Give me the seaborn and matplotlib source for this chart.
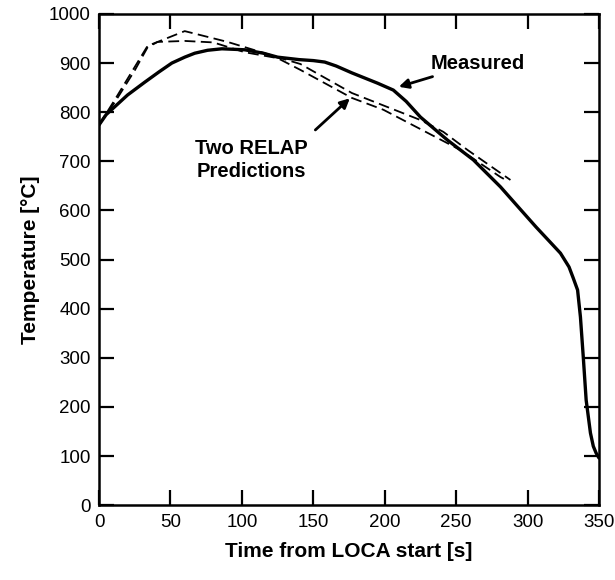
import pandas as pd
import matplotlib.pyplot as plt
import seaborn as sns

# measured thermocouple trace
meas_t = [0, 5, 11, 20, 32, 42, 51, 60, 67, 76, 86, 102, 115, 125, 140, 150, 158, 166, 177, 195, 206,
          215, 225, 244, 262, 281, 295, 306, 315, 323, 329, 332, 335, 337, 339, 341, 344, 346, 348, 350]
meas_T = [774, 795, 811, 835, 861, 882, 900, 912, 920, 926, 929, 927, 920, 912, 907, 905, 902, 894, 880, 859, 845,
          822, 790, 743, 703, 648, 602, 566, 538, 513, 485, 462, 438, 383, 301, 214, 147, 120, 106, 96]

# RELAP prediction 1
relap1_t = [0, 11, 25, 34, 41, 60, 90, 125, 141, 177, 225, 241, 258, 288]
relap1_T = [774, 825, 892, 935, 943, 965, 943, 912, 898, 839, 784, 760, 723, 662]

# RELAP prediction 2
relap2_t = [0, 11, 25, 34, 41, 60, 80, 102, 125, 141, 177, 199, 253, 281, 286]
relap2_T = [774, 820, 885, 932, 943, 945, 942, 922, 910, 886, 829, 805, 723, 668, 660]

sns.set_style('ticks')
plt.rcParams['font.family'] = ['Liberation Sans', 'DejaVu Sans']
plt.rcParams['text.color'] = 'black'
plt.rcParams['axes.labelcolor'] = 'black'

fig = plt.figure(figsize=(6.15, 5.8), dpi=100)
ax = fig.add_axes([0.161, 0.129, 0.813, 0.847])

sns.lineplot(x=meas_t, y=meas_T, color='black', lw=2.4, ax=ax)
sns.lineplot(x=relap1_t, y=relap1_T, color='black', lw=1.3, ax=ax, linestyle=(0, (6, 3)))
sns.lineplot(x=relap2_t, y=relap2_T, color='black', lw=1.3, ax=ax, linestyle=(0, (6, 3)))

ax.set_xlim(0, 350)
ax.set_ylim(0, 1000)
ax.set_xticks(range(0, 351, 50))
ax.set_yticks(range(0, 1001, 100))
ax.tick_params(direction='in', length=11, width=1.6, labelsize=13.5, pad=6,
               top=True, right=True, colors='black')
for s in ax.spines.values():
    s.set_linewidth(1.8)
    s.set_color('black')

ax.set_xlabel('Time from LOCA start [s]', fontsize=15, fontweight='bold', labelpad=8)
ax.set_ylabel('Temperature [°C]', fontsize=15, fontweight='bold', labelpad=6)

ax.annotate('Measured', xy=(208, 850), xytext=(232, 900), fontsize=14.5, fontweight='bold',
            va='center', ha='left',
            arrowprops=dict(arrowstyle='-|>', color='black', lw=2, mutation_scale=14))
ax.annotate('Two RELAP\nPredictions', xy=(177, 832), xytext=(107, 703), fontsize=14.5,
            fontweight='bold', ha='center', va='center', linespacing=1.3)
ax.annotate('', xy=(177, 832), xytext=(150, 760),
            arrowprops=dict(arrowstyle='-|>', color='black', lw=2, mutation_scale=14))

plt.savefig('out.png')
